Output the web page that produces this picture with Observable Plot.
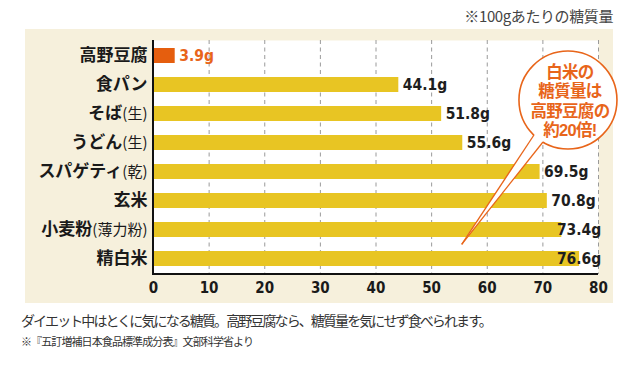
<!DOCTYPE html>
<html><head><meta charset="utf-8">
<script src="https://cdn.jsdelivr.net/npm/d3@7"></script>
<script src="https://cdn.jsdelivr.net/npm/@observablehq/plot@0.6"></script>
<style>
html,body{margin:0;padding:0;background:#fff;}
body{width:640px;height:365px;position:relative;overflow:hidden;font-family:"Noto Sans CJK JP",sans-serif;}
#note{position:absolute;right:27px;top:5px;font-size:15px;color:#444;letter-spacing:-0.4px;}
#chart{position:absolute;left:25px;top:29px;}
#cap1{position:absolute;left:21px;top:310px;font-size:14px;color:#333;letter-spacing:-1.9px;white-space:nowrap;}
#cap2{position:absolute;left:21px;top:333px;font-size:11px;color:#333;letter-spacing:-0.9px;white-space:nowrap;}
</style></head>
<body>
<div id="note">※100gあたりの糖質量</div>
<div id="chart"></div>
<div id="cap1">ダイエット中はとくに気になる糖質。高野豆腐なら、糖質量を気にせず食べられます。</div>
<div id="cap2">※『五訂増補日本食品標準成分表』文部科学省より</div>
<script>
const categories = ["高野豆腐","食パン","そば(生)","うどん(生)","スパゲティ(乾)","玄米","小麦粉(薄力粉)","精白米"];
const values = [3.9,44.1,51.8,55.6,69.5,70.8,73.4,76.6];
const xTicks = [0,10,20,30,40,50,60,70,80];
const highlight = "高野豆腐";
const bubbleLines = ["白米の","糖質量は","高野豆腐の","約20倍!"];

const data = categories.map((name,i)=>({name, value: values[i]}));
const numFont = '"Liberation Sans Narrow","DejaVu Sans Condensed","Roboto",sans-serif';
const orange = "#e8651a";
const yellow = "#e8c523";
const padInner = 0.485, padOuter = 0.26;

function bubble(index, scales, values, dims) {
  const ns = "http://www.w3.org/2000/svg";
  const g = document.createElementNS(ns, "g");
  const x = scales.x;
  const inner = dims.height - dims.marginTop - dims.marginBottom;
  const n = categories.length;
  const step = inner / (n - padInner + 2 * padOuter);
  const bandStart = i => dims.marginTop + step * padOuter + i * step;
  const tipX = x(55.5);
  const tipY = bandStart(n - 1) - step * padInner / 2;
  const cx = x(74.6), cy = dims.marginTop + 60, r = 49;
  const b1 = [cx - 34, cy + 35], b2 = [cx - 25, cy + 42];
  const mk = (tag, attrs, parent = g) => { const e = document.createElementNS(ns, tag); for (const k in attrs) e.setAttribute(k, attrs[k]); parent.appendChild(e); return e; };
  mk("circle", {cx, cy, r, fill:"#fff", stroke:orange, "stroke-width":1.6});
  mk("polygon", {points:`${tipX},${tipY} ${b1[0]+3},${b1[1]-4} ${b2[0]+3},${b2[1]-4}`, fill:"#fff"});
  mk("line", {x1:tipX, y1:tipY, x2:b1[0], y2:b1[1], stroke:orange, "stroke-width":1.3});
  mk("line", {x1:tipX, y1:tipY, x2:b2[0], y2:b2[1], stroke:orange, "stroke-width":1.3});
  const txt = mk("text", {"text-anchor":"middle", fill:orange, "font-size":16.5, "font-weight":"bold",
      "letter-spacing":-0.7, "font-family":'"Liberation Sans","Noto Sans CJK JP",sans-serif'});
  bubbleLines.forEach((t,i)=>{
    const ts = mk("tspan", {x: cx + 2, y: cy - 28 + i*19.5, dy:"0.35em"}, txt);
    ts.textContent = t;
  });
  return g;
}

function axesLines(index, scales, values, dims) {
  const ns = "http://www.w3.org/2000/svg";
  const g = document.createElementNS(ns, "g");
  const l = dims.marginLeft, b = dims.height - dims.marginBottom, t = dims.marginTop, rr = dims.width - dims.marginRight;
  const mk = (attrs) => { const e = document.createElementNS(ns, "line"); for (const k in attrs) e.setAttribute(k, attrs[k]); g.appendChild(e); };
  mk({x1:l, x2:l, y1:t, y2:b+1, stroke:"#111", "stroke-width":2});
  mk({x1:l-1, x2:rr, y1:b, y2:b, stroke:"#111", "stroke-width":2});
  return g;
}

const chart = Plot.plot({
  width: 588, height: 274,
  marginLeft: 128, marginRight: 15, marginTop: 11, marginBottom: 29,
  style: {background:"#f6f0dc", overflow:"visible", fontFamily:'"Noto Sans CJK JP",sans-serif', color:"#1a1a1a"},
  x: {domain:[0,80], ticks: xTicks, label:null},
  y: {domain: categories, paddingInner:padInner, paddingOuter:padOuter, label:null},
  marks: [
    Plot.frame({fill:"#fff", stroke:null}),
    Plot.gridX(xTicks.slice(1), {stroke:"#9a9a9a", strokeOpacity:1, strokeDasharray:"4,3.5"}),
    Plot.barX(data, {x:"value", y:"name", fill: d => d.name === highlight ? "#e55e0e" : yellow}),
    Plot.text(data, {x: d => Math.min(d.value, 71.8), y:"name", text: d => d.value.toFixed(1) + "g", dx:4, textAnchor:"start",
      fill: d => d.name === highlight ? orange : "#1e1e1e", fontSize:15.5, fontWeight:"bold", fontFamily:numFont}),
    Plot.axisX(xTicks, {tickSize:0, tickPadding:8, fontSize:15, fontWeight:"bold", fontFamily:numFont, label:null}),
    Plot.axisY({tickSize:0, tickPadding:6, fontSize:17, fontWeight:"bold", label:null}),
    axesLines,
    bubble
  ]
});
document.getElementById("chart").appendChild(chart);

d3.select(chart).selectAll('[aria-label="y-axis tick label"] text').each(function(){
  const t = this.textContent;
  const i = t.indexOf("(");
  if (i > 0) {
    const sel = d3.select(this);
    sel.text(null);
    sel.append("tspan").text(t.slice(0,i));
    sel.append("tspan").attr("font-weight","normal").attr("font-size",15).text(t.slice(i));
  }
});
</script>
</body></html>
